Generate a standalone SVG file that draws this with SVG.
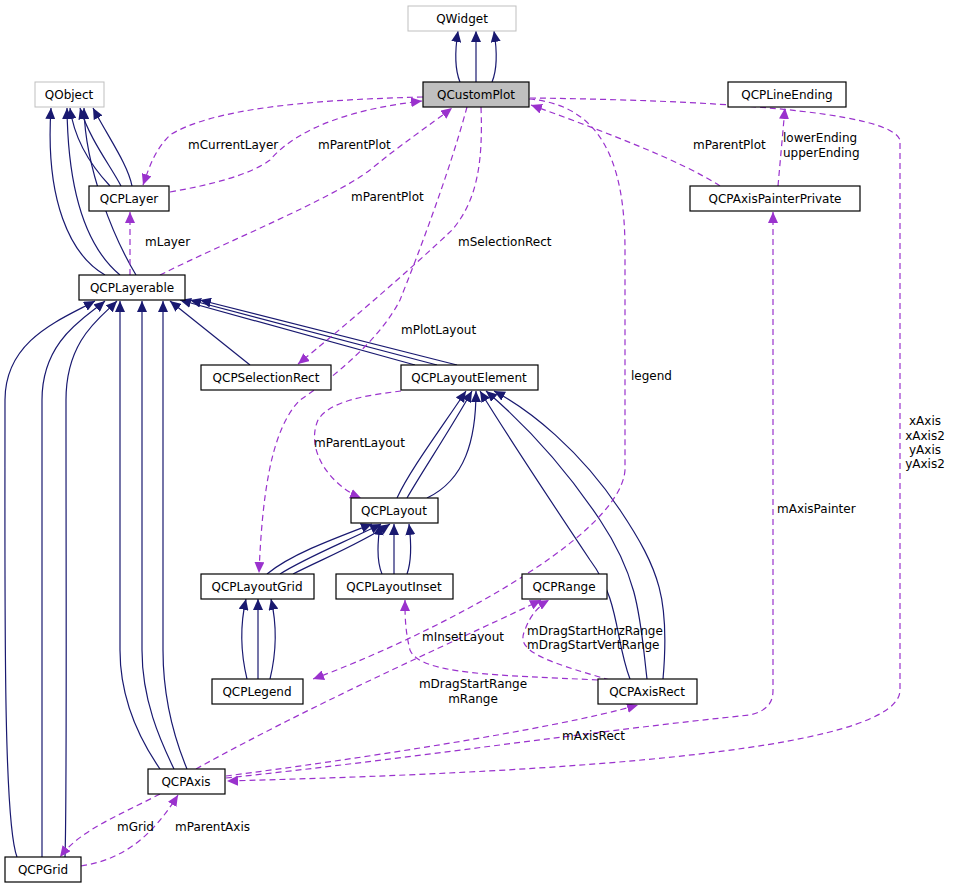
<svg xmlns="http://www.w3.org/2000/svg" width="953" height="891" viewBox="0 0 953 891">
<style>
.n rect{fill:#fff;stroke:#000;stroke-width:1.2}
.g rect{fill:#fff;stroke:#bfbfbf;stroke-width:1}
text{font-family:"DejaVu Sans",sans-serif;font-size:12px;fill:#000}
.n text,.g text{text-anchor:middle}
.s{fill:none;stroke:#191970;stroke-width:1.2;marker-end:url(#as)}
.d{fill:none;stroke:#9a32cd;stroke-width:1.2;stroke-dasharray:6,4;marker-end:url(#ad)}
</style>
<defs>
<marker id="as" markerUnits="userSpaceOnUse" markerWidth="12" markerHeight="10" refX="11" refY="5" orient="auto"><path d="M0,0 L11,5 L0,10 Z" fill="#191970"/></marker>
<marker id="ad" markerUnits="userSpaceOnUse" markerWidth="12" markerHeight="10" refX="11" refY="5" orient="auto"><path d="M0,0 L11,5 L0,10 Z" fill="#9a32cd"/></marker>
</defs>
<rect width="953" height="891" fill="#fff"/>
<g id="edges">
<path class="s" d="M460,82 C455,70 455,50 458,31"/>
<path class="s" d="M476,82 L476,31"/>
<path class="s" d="M492,82 C497,70 497,50 494,31"/>
<path class="s" d="M105,275 C70,255 45,200 51,108"/>
<path class="s" d="M120,275 C90,250 68,200 67,108"/>
<path class="s" d="M136,275 C115,240 85,170 84,108"/>
<path class="s" d="M110,186 C95,170 75,145 70,108"/>
<path class="s" d="M121,186 C110,165 90,140 80,108"/>
<path class="s" d="M132,186 C128,165 110,140 93,108"/>
<path class="s" d="M17,857 C3,820 5,600 5,400 C5,340 60,320 95,301"/>
<path class="s" d="M42,857 C42,800 42,600 42,400 C42,340 85,318 105,301"/>
<path class="s" d="M65,857 C67,800 66,600 66,400 C66,340 100,318 117,301"/>
<path class="s" d="M160,769 C140,740 120,700 120,650 L120,301"/>
<path class="s" d="M174,769 C160,740 142,700 142,650 L142,301"/>
<path class="s" d="M187,769 C175,740 163,700 163,650 L163,301"/>
<path class="s" d="M250,365 L170,301"/>
<path class="s" d="M415,365 L180,300"/>
<path class="s" d="M437,365 L190,300"/>
<path class="s" d="M457,365 L200,300"/>
<path class="s" d="M397,498 C410,470 440,430 466,391"/>
<path class="s" d="M407,498 C420,475 450,430 472,391"/>
<path class="s" d="M427,498 C465,480 476,440 476,391"/>
<path class="s" d="M630,679 C615,640 620,600 590,560 C550,500 510,440 480,391"/>
<path class="s" d="M647,679 C640,620 640,580 600,520 C560,460 520,420 486,391"/>
<path class="s" d="M663,679 C670,600 660,570 620,510 C580,450 530,410 494,391"/>
<path class="s" d="M267,574 C290,555 330,540 372,524"/>
<path class="s" d="M280,574 C305,558 345,542 381,524"/>
<path class="s" d="M293,574 C320,560 360,544 390,524"/>
<path class="s" d="M382,574 C376,560 378,540 380,524"/>
<path class="s" d="M394,574 L394,524"/>
<path class="s" d="M407,574 C412,560 411,540 409,524"/>
<path class="s" d="M247,679 C240,650 240,625 246,599"/>
<path class="s" d="M258,679 L258,599"/>
<path class="s" d="M270,679 C277,650 277,625 271,599"/>
<path class="d" d="M423,97 C300,100 210,110 170,135 C155,150 150,165 143,185"/>
<path class="d" d="M170,192 C210,185 250,175 270,160 C300,125 360,108 422,101"/>
<path class="d" d="M160,275 C230,240 330,200 370,170 C400,145 430,125 452,108"/>
<path class="d" d="M130,275 L130,212"/>
<path class="d" d="M481,107 C483,160 478,200 452,230 C410,270 340,330 298,364"/>
<path class="d" d="M467,107 C450,170 420,250 400,300 C380,340 330,380 300,400 C270,430 262,500 259,573"/>
<path class="d" d="M401,391 C370,395 330,400 318,420 C305,450 330,485 361,498"/>
<path class="d" d="M529,99 C600,105 625,160 625,250 L625,470 C620,540 420,640 313,679"/>
<path class="d" d="M720,186 C680,160 600,130 531,105"/>
<path class="d" d="M778,186 L785,108"/>
<path class="d" d="M530,98 C700,100 890,110 900,140 L900,690 C900,760 450,775 227,781"/>
<path class="d" d="M226,778 C400,760 600,730 750,715 C770,710 773,700 773,690 L773,212"/>
<path class="d" d="M598,680 C500,675 420,675 410,650 C405,630 405,615 405,600"/>
<path class="d" d="M610,680 C540,660 515,650 525,630 C530,615 540,605 549,600"/>
<path class="d" d="M196,769 C320,700 480,630 541,600"/>
<path class="d" d="M226,776 C350,760 550,730 638,705"/>
<path class="d" d="M160,794 C120,815 80,830 60,857"/>
<path class="d" d="M81,866 C120,860 150,840 178,795"/>
</g>
<g id="labels">
<text x="188" y="149">mCurrentLayer</text>
<text x="318" y="149">mParentPlot</text>
<text x="351" y="201">mParentPlot</text>
<text x="145" y="246">mLayer</text>
<text x="458" y="246">mSelectionRect</text>
<text x="401" y="334">mPlotLayout</text>
<text x="631" y="380">legend</text>
<text x="314" y="447">mParentLayout</text>
<text x="693" y="149">mParentPlot</text>
<text x="783" y="142">lowerEnding</text>
<text x="783" y="157">upperEnding</text>
<text x="925" y="425" text-anchor="middle">xAxis</text>
<text x="925" y="440" text-anchor="middle">xAxis2</text>
<text x="925" y="454" text-anchor="middle">yAxis</text>
<text x="925" y="468" text-anchor="middle">yAxis2</text>
<text x="777" y="513">mAxisPainter</text>
<text x="422" y="641">mInsetLayout</text>
<text x="527" y="635">mDragStartHorzRange</text>
<text x="527" y="649">mDragStartVertRange</text>
<text x="473" y="688" text-anchor="middle">mDragStartRange</text>
<text x="473" y="703" text-anchor="middle">mRange</text>
<text x="562" y="740">mAxisRect</text>
<text x="117" y="831">mGrid</text>
<text x="175" y="831">mParentAxis</text>
</g>
<g id="QWidget" class="g"><rect x="408" y="6" width="108" height="25"/><text x="462" y="23">QWidget</text></g>
<g id="QCustomPlot" class="n"><rect x="423" y="82" width="106" height="25" style="fill:#bfbfbf"/><text x="476" y="99">QCustomPlot</text></g>
<g id="QCPLineEnding" class="n"><rect x="728" y="82" width="118" height="25"/><text x="787" y="99">QCPLineEnding</text></g>
<g id="QObject" class="g"><rect x="35" y="82" width="69" height="25"/><text x="69" y="99">QObject</text></g>
<g id="QCPLayer" class="n"><rect x="89" y="186" width="80" height="25"/><text x="129" y="203">QCPLayer</text></g>
<g id="QCPAxisPainterPrivate" class="n"><rect x="690" y="186" width="170" height="25"/><text x="775" y="203">QCPAxisPainterPrivate</text></g>
<g id="QCPLayerable" class="n"><rect x="79" y="275" width="106" height="25"/><text x="132" y="292">QCPLayerable</text></g>
<g id="QCPSelectionRect" class="n"><rect x="201" y="365" width="130" height="25"/><text x="266" y="382">QCPSelectionRect</text></g>
<g id="QCPLayoutElement" class="n"><rect x="401" y="365" width="137" height="25"/><text x="469" y="382">QCPLayoutElement</text></g>
<g id="QCPLayout" class="n"><rect x="351" y="498" width="87" height="25"/><text x="394" y="515">QCPLayout</text></g>
<g id="QCPLayoutGrid" class="n"><rect x="201" y="574" width="113" height="25"/><text x="257" y="591">QCPLayoutGrid</text></g>
<g id="QCPLayoutInset" class="n"><rect x="336" y="574" width="117" height="25"/><text x="394" y="591">QCPLayoutInset</text></g>
<g id="QCPRange" class="n"><rect x="522" y="574" width="85" height="25"/><text x="564" y="591">QCPRange</text></g>
<g id="QCPLegend" class="n"><rect x="212" y="679" width="91" height="25"/><text x="257" y="696">QCPLegend</text></g>
<g id="QCPAxisRect" class="n"><rect x="598" y="679" width="99" height="25"/><text x="647" y="696">QCPAxisRect</text></g>
<g id="QCPAxis" class="n"><rect x="148" y="769" width="77" height="25"/><text x="186" y="786">QCPAxis</text></g>
<g id="QCPGrid" class="n"><rect x="5" y="857" width="76" height="25"/><text x="43" y="874">QCPGrid</text></g>
</svg>
